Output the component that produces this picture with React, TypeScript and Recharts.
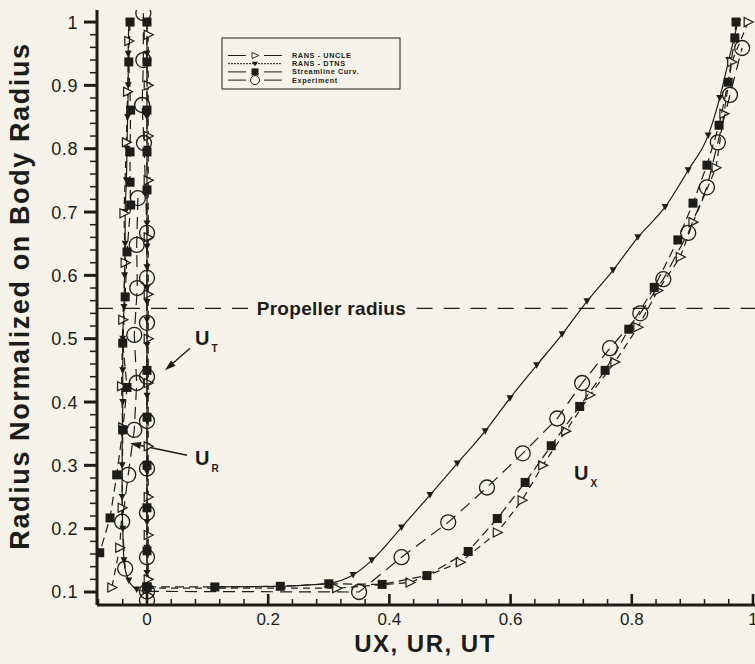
import React from "react";
import { ScatterChart, Scatter, XAxis, YAxis, ReferenceLine, ReferenceDot } from "recharts";

const INK = "#1c1c1a";
const BG = "#f5f3e9";
const FONT = '"Liberation Sans", Arial, Helvetica, sans-serif';

type Pt = { x: number; y: number };

// axis ticks
const xMajorTicks = [0, 0.2, 0.4, 0.6, 0.8, 1];
const xMajorLabels = ["0", "0.2", "0.4", "0.6", "0.8", "1"];
const yMajorTicks = [0.1, 0.2, 0.3, 0.4, 0.5, 0.6, 0.7, 0.8, 0.9, 1];
const yMajorLabels = ["0.1", "0.2", "0.3", "0.4", "0.5", "0.6", "0.7", "0.8", "0.9", "1"];
const xDomain = [-0.0825, 1.0033];
const yDomain = [0.0795, 1.019];
const propellerRadius = 0.548;

// minor ticks: every 0.04 on x, every 0.02 on y
const xMinorTicks: number[] = [];
for (let i = -2; i <= 25; i++) if (i % 5 !== 0) xMinorTicks.push(+(i * 0.04).toFixed(3));
const yMinorTicks: number[] = [];
for (let i = 6; i <= 50; i++) if (i % 5 !== 0) yMinorTicks.push(+(i * 0.02).toFixed(3));

// UX
const uxUncle: Pt[] = [
  { x: 0.0, y: 0.106 }, { x: 0.313, y: 0.106 }, { x: 0.434, y: 0.115 }, { x: 0.517, y: 0.147 },
  { x: 0.578, y: 0.194 }, { x: 0.619, y: 0.245 }, { x: 0.653, y: 0.3 }, { x: 0.691, y: 0.354 },
  { x: 0.731, y: 0.411 }, { x: 0.772, y: 0.463 }, { x: 0.81, y: 0.518 }, { x: 0.843, y: 0.576 },
  { x: 0.88, y: 0.629 }, { x: 0.901, y: 0.684 }, { x: 0.939, y: 0.77 }, { x: 0.952, y: 0.855 },
  { x: 0.965, y: 0.937 }, { x: 0.992, y: 1.0 },
];
const uxDtns: Pt[] = [
  { x: 0.11, y: 0.108 }, { x: 0.22, y: 0.109 }, { x: 0.3, y: 0.114 }, { x: 0.34, y: 0.127 },
  { x: 0.371, y: 0.15 }, { x: 0.42, y: 0.202 }, { x: 0.467, y: 0.253 }, { x: 0.512, y: 0.303 },
  { x: 0.558, y: 0.354 }, { x: 0.599, y: 0.406 }, { x: 0.643, y: 0.458 }, { x: 0.685, y: 0.507 },
  { x: 0.726, y: 0.559 }, { x: 0.769, y: 0.608 }, { x: 0.81, y: 0.66 }, { x: 0.855, y: 0.708 },
  { x: 0.893, y: 0.766 }, { x: 0.926, y: 0.821 }, { x: 0.945, y: 0.88 }, { x: 0.96, y: 0.94 },
  { x: 0.975, y: 1.0 },
];
const uxStream: Pt[] = [
  { x: 0.0, y: 0.108 }, { x: 0.112, y: 0.108 }, { x: 0.22, y: 0.109 }, { x: 0.3, y: 0.113 },
  { x: 0.388, y: 0.112 }, { x: 0.462, y: 0.126 }, { x: 0.53, y: 0.164 }, { x: 0.578, y: 0.216 },
  { x: 0.624, y: 0.273 }, { x: 0.667, y: 0.331 }, { x: 0.714, y: 0.393 }, { x: 0.756, y: 0.45 },
  { x: 0.795, y: 0.515 }, { x: 0.837, y: 0.581 }, { x: 0.876, y: 0.656 }, { x: 0.901, y: 0.714 },
  { x: 0.924, y: 0.774 }, { x: 0.944, y: 0.837 }, { x: 0.959, y: 0.905 }, { x: 0.97, y: 0.975 },
  { x: 0.972, y: 1.0 },
];
const uxExp: Pt[] = [
  { x: 0.0, y: 0.101 }, { x: 0.35, y: 0.1 }, { x: 0.42, y: 0.155 }, { x: 0.497, y: 0.21 },
  { x: 0.561, y: 0.265 }, { x: 0.62, y: 0.319 }, { x: 0.677, y: 0.374 }, { x: 0.718, y: 0.43 },
  { x: 0.764, y: 0.485 }, { x: 0.814, y: 0.54 }, { x: 0.852, y: 0.594 }, { x: 0.893, y: 0.667 },
  { x: 0.924, y: 0.739 }, { x: 0.942, y: 0.81 }, { x: 0.962, y: 0.885 }, { x: 0.982, y: 0.959 },
];

// UR
const urUncle: Pt[] = [
  { x: -0.03, y: 0.97 }, { x: -0.032, y: 0.89 }, { x: -0.034, y: 0.81 }, { x: -0.038, y: 0.698 },
  { x: -0.036, y: 0.62 }, { x: -0.04, y: 0.53 }, { x: -0.042, y: 0.425 }, { x: -0.04, y: 0.36 },
  { x: -0.041, y: 0.233 }, { x: -0.045, y: 0.17 }, { x: -0.058, y: 0.107 },
];
const urDtns: Pt[] = [
  { x: -0.03, y: 1.0 }, { x: -0.031, y: 0.95 }, { x: -0.031, y: 0.9 }, { x: -0.032, y: 0.85 },
  { x: -0.033, y: 0.8 }, { x: -0.034, y: 0.75 }, { x: -0.036, y: 0.7 }, { x: -0.036, y: 0.65 },
  { x: -0.037, y: 0.6 }, { x: -0.038, y: 0.55 }, { x: -0.04, y: 0.5 }, { x: -0.04, y: 0.45 },
  { x: -0.04, y: 0.4 }, { x: -0.041, y: 0.35 }, { x: -0.041, y: 0.3 }, { x: -0.041, y: 0.25 },
  { x: -0.04, y: 0.2 }, { x: -0.038, y: 0.15 }, { x: -0.03, y: 0.118 }, { x: -0.017, y: 0.104 },
  { x: 0.0, y: 0.1 },
];
const urStream: Pt[] = [
  { x: -0.028, y: 1.0 }, { x: -0.03, y: 0.937 }, { x: -0.027, y: 0.861 }, { x: -0.028, y: 0.795 },
  { x: -0.028, y: 0.747 }, { x: -0.027, y: 0.711 }, { x: -0.033, y: 0.637 }, { x: -0.036, y: 0.566 },
  { x: -0.04, y: 0.493 }, { x: -0.033, y: 0.423 }, { x: -0.04, y: 0.356 }, { x: -0.05, y: 0.285 },
  { x: -0.061, y: 0.217 }, { x: -0.078, y: 0.162 },
];
const urExp: Pt[] = [
  { x: -0.015, y: 0.722 }, { x: -0.017, y: 0.648 }, { x: -0.016, y: 0.58 }, { x: -0.021, y: 0.506 },
  { x: -0.017, y: 0.43 }, { x: -0.021, y: 0.356 }, { x: -0.031, y: 0.285 }, { x: -0.041, y: 0.211 },
  { x: -0.036, y: 0.137 },
];

// UT
const utUncle: Pt[] = [
  { x: 0.002, y: 0.98 }, { x: 0.002, y: 0.9 }, { x: 0.002, y: 0.82 }, { x: 0.002, y: 0.75 },
  { x: 0.002, y: 0.66 }, { x: 0.002, y: 0.57 }, { x: 0.002, y: 0.5 }, { x: 0.002, y: 0.43 },
  { x: 0.002, y: 0.33 }, { x: 0.002, y: 0.25 }, { x: 0.002, y: 0.19 }, { x: 0.002, y: 0.12 },
];
const utDtns: Pt[] = [
  { x: 0, y: 1.0 }, { x: 0, y: 0.95 }, { x: 0, y: 0.9 }, { x: 0, y: 0.85 }, { x: 0, y: 0.8 },
  { x: 0, y: 0.75 }, { x: 0, y: 0.682 }, { x: 0, y: 0.645 }, { x: 0, y: 0.613 }, { x: 0, y: 0.58 },
  { x: 0, y: 0.558 }, { x: 0, y: 0.53 }, { x: 0, y: 0.49 }, { x: 0, y: 0.45 }, { x: 0, y: 0.41 },
  { x: 0, y: 0.37 }, { x: 0, y: 0.33 }, { x: 0, y: 0.29 }, { x: 0, y: 0.25 }, { x: 0, y: 0.21 },
  { x: 0, y: 0.17 }, { x: 0, y: 0.13 }, { x: 0, y: 0.1 },
];
const utStream: Pt[] = [
  { x: 0, y: 1.0 }, { x: 0, y: 0.937 }, { x: 0, y: 0.861 }, { x: 0, y: 0.795 }, { x: 0, y: 0.735 },
  { x: 0, y: 0.45 }, { x: 0, y: 0.376 }, { x: 0, y: 0.3 }, { x: 0, y: 0.233 }, { x: 0, y: 0.165 },
  { x: 0, y: 0.108 },
];
const utExp: Pt[] = [
  { x: -0.006, y: 1.014 }, { x: -0.006, y: 0.94 }, { x: -0.008, y: 0.869 }, { x: -0.005, y: 0.809 },
  { x: 0, y: 0.667 }, { x: 0, y: 0.596 }, { x: 0, y: 0.525 }, { x: 0, y: 0.44 }, { x: 0, y: 0.37 },
  { x: 0, y: 0.295 }, { x: 0, y: 0.225 }, { x: 0, y: 0.155 }, { x: 0, y: 0.087 },
];

// markers
const OpenTri = (p: any) => (
  <path d={`M${p.cx - 4},${p.cy - 4.5}L${p.cx + 5},${p.cy}L${p.cx - 4},${p.cy + 4.5}Z`} fill={BG} stroke={INK} strokeWidth={1.2} />
);
const DownTri = (p: any) => (
  <path d={`M${p.cx - 3.5},${p.cy - 3}L${p.cx + 3.5},${p.cy - 3}L${p.cx},${p.cy + 3.5}Z`} fill={INK} />
);
const Square = (p: any) => <rect x={p.cx - 4.5} y={p.cy - 4.5} width={9} height={9} fill={INK} />;
const OpenCircle = (p: any) => <circle cx={p.cx} cy={p.cy} r={7.5} fill="none" stroke={INK} strokeWidth={1.3} />;

const uncleLine = { stroke: INK, strokeWidth: 1.2, strokeDasharray: "7 5" };
const dtnsLine = { stroke: INK, strokeWidth: 1.2 };
const streamLine = { stroke: INK, strokeWidth: 1.2, strokeDasharray: "9 5" };
const expLine = { stroke: INK, strokeWidth: 1.2, strokeDasharray: "12 7" };

const majorIndex = (ticks: number[], v: number) => ticks.findIndex((t) => Math.abs(t - v) < 1e-6);

const XTick = (p: any) => {
  const i = majorIndex(xMajorTicks, p.payload.value);
  const major = i >= 0;
  return (
    <g>
      <line x1={p.x} x2={p.x} y1={p.y} y2={p.y - (major ? 11 : 6)} stroke={INK} strokeWidth={major ? 2.6 : 1.5} />
      {major && (
        <text x={p.x} y={p.y + 20} textAnchor="middle" fontSize={17} fontFamily={FONT} fill={INK}>
          {xMajorLabels[i]}
        </text>
      )}
    </g>
  );
};

const YTick = (p: any) => {
  const i = majorIndex(yMajorTicks, p.payload.value);
  const major = i >= 0;
  return (
    <g>
      <line x1={p.x - (major ? 13 : 7)} x2={p.x} y1={p.y} y2={p.y} stroke={INK} strokeWidth={major ? 3 : 1.5} />
      {major && (
        <text x={p.x - 19} y={p.y} dy="0.36em" textAnchor="end" fontSize={18} fontFamily={FONT} fill={INK} letterSpacing={0.6}>
          {yMajorLabels[i]}
        </text>
      )}
    </g>
  );
};

const arrow = (p: any) => {
  const { x1, y1, x2, y2 } = p;
  const a = Math.atan2(y2 - y1, x2 - x1);
  const L = 11;
  const W = 3.5;
  const bx = x2 - L * Math.cos(a);
  const by = y2 - L * Math.sin(a);
  const nx = -Math.sin(a) * W;
  const ny = Math.cos(a) * W;
  return (
    <g>
      <line x1={x1} y1={y1} x2={bx} y2={by} stroke={INK} strokeWidth={1.4} />
      <path d={`M${x2},${y2}L${bx + nx},${by + ny}L${bx - nx},${by - ny}Z`} fill={INK} />
    </g>
  );
};

const subLabel = (main: string, sub: string) => (p: any) => (
  <text x={p.cx} y={p.cy} fontFamily={FONT} fontWeight="bold" fill={INK} fontSize={20}>
    {main}
    <tspan fontSize={10} dx={2} dy={7}>{sub}</tspan>
  </text>
);

const propLabel = (p: any) => (
  <text x={p.cx} y={p.cy} dy="0.35em" fontFamily={FONT} fontWeight="bold" fill={INK} fontSize={19} letterSpacing={0.3}>
    Propeller radius
  </text>
);

const legendRows = [
  { label: "RANS - UNCLE", kind: "uncle" },
  { label: "RANS - DTNS", kind: "dtns" },
  { label: "Streamline Curv.", kind: "stream" },
  { label: "Experiment", kind: "exp" },
];

function LegendBox() {
  return (
    <g>
      <rect x={222} y={38} width={178} height={51} fill={BG} stroke={INK} strokeWidth={1} />
      {legendRows.map((r, i) => {
        const y = 55.5 + i * 8.2;
        const mx = 255;
        return (
          <g key={r.label}>
            {r.kind === "dtns" ? (
              <line x1={228} x2={282} y1={y} y2={y} stroke={INK} strokeWidth={1} strokeDasharray="2 1" />
            ) : (
              <g>
                <line x1={228} x2={246} y1={y} y2={y} stroke={INK} strokeWidth={1} />
                <line x1={264} x2={282} y1={y} y2={y} stroke={INK} strokeWidth={1} />
              </g>
            )}
            {r.kind === "uncle" && <path d={`M${mx - 3},${y - 3}L${mx + 4},${y}L${mx - 3},${y + 3}Z`} fill={BG} stroke={INK} strokeWidth={0.9} />}
            {r.kind === "dtns" && <path d={`M${mx - 3},${y - 2}L${mx + 3},${y - 2}L${mx},${y + 2.5}Z`} fill={INK} />}
            {r.kind === "stream" && <rect x={mx - 3.5} y={y - 3.5} width={7} height={7} fill={INK} />}
            {r.kind === "exp" && <circle cx={mx} cy={y} r={4.5} fill={BG} stroke={INK} strokeWidth={1} />}
            <text x={292} y={y} dy="0.35em" fontSize={7.3} fontWeight="bold" fontFamily={FONT} fill={INK} letterSpacing={0.6}>
              {r.label}
            </text>
          </g>
        );
      })}
    </g>
  );
}

export default function App() {
  return (
    <div style={{ position: "absolute", left: 0, top: 0, width: 755, height: 664, background: BG, overflow: "hidden" }}>
      <ScatterChart width={755} height={664} margin={{ top: 10, right: 0, bottom: 0, left: 0 }}>
        <XAxis
          type="number"
          dataKey="x"
          domain={xDomain}
          allowDataOverflow
          ticks={[...xMajorTicks, ...xMinorTicks].sort((a, b) => a - b)}
          interval={0}
          height={59}
          tickSize={0}
          tickMargin={0}
          tickLine={false}
          tick={XTick}
          axisLine={{ stroke: INK, strokeWidth: 3 }}
        />
        <YAxis
          type="number"
          dataKey="y"
          domain={yDomain}
          allowDataOverflow
          ticks={[...yMajorTicks, ...yMinorTicks].sort((a, b) => a - b)}
          interval={0}
          width={97}
          tickSize={0}
          tickMargin={0}
          tickLine={false}
          tick={YTick}
          axisLine={{ stroke: INK, strokeWidth: 3 }}
        />

        <ReferenceLine segment={[{ x: xDomain[0], y: propellerRadius }, { x: 0.17, y: propellerRadius }]} stroke={INK} strokeWidth={1.3} strokeDasharray="16 11" />
        <ReferenceLine segment={[{ x: 0.445, y: propellerRadius }, { x: xDomain[1], y: propellerRadius }]} stroke={INK} strokeWidth={1.3} strokeDasharray="16 11" />
        <ReferenceDot x={0.181} y={propellerRadius} r={0} shape={propLabel} />

        <Scatter data={utDtns} isAnimationActive={false} line={dtnsLine} shape={DownTri} />
        <Scatter data={utUncle} isAnimationActive={false} line={uncleLine} shape={OpenTri} />
        <Scatter data={utStream} isAnimationActive={false} line={streamLine} shape={Square} />
        <Scatter data={utExp} isAnimationActive={false} line={expLine} shape={OpenCircle} />

        <Scatter data={urDtns} isAnimationActive={false} line={dtnsLine} lineJointType="monotoneY" shape={DownTri} />
        <Scatter data={urUncle} isAnimationActive={false} line={uncleLine} shape={OpenTri} />
        <Scatter data={urStream} isAnimationActive={false} line={streamLine} shape={Square} />
        <Scatter data={urExp} isAnimationActive={false} line={expLine} shape={OpenCircle} />

        <Scatter data={uxDtns} isAnimationActive={false} line={dtnsLine} lineJointType="monotoneX" shape={DownTri} />
        <Scatter data={uxUncle} isAnimationActive={false} line={uncleLine} shape={OpenTri} />
        <Scatter data={uxStream} isAnimationActive={false} line={streamLine} shape={Square} />
        <Scatter data={uxExp} isAnimationActive={false} line={expLine} shape={OpenCircle} />

        <ReferenceLine segment={[{ x: 0.071, y: 0.485 }, { x: 0.0297, y: 0.45 }]} shape={arrow} />
        <ReferenceLine segment={[{ x: 0.066, y: 0.316 }, { x: -0.028, y: 0.335 }]} shape={arrow} />
        <ReferenceDot x={0.0792} y={0.4897} r={0} shape={subLabel("U", "T")} />
        <ReferenceDot x={0.0792} y={0.3002} r={0} shape={subLabel("U", "R")} />
        <ReferenceDot x={0.7046} y={0.2765} r={0} shape={subLabel("U", "X")} />
      </ScatterChart>
      <svg width={755} height={664} style={{ position: "absolute", left: 0, top: 0, pointerEvents: "none" }}>
        <LegendBox />
        <text x={425} y={652} textAnchor="middle" fontSize={24} fontWeight="bold" fontFamily={FONT} fill={INK} letterSpacing={1.5}>
          UX, UR, UT
        </text>
        <text
          x={20}
          y={296}
          transform="rotate(-90 20 296)"
          textAnchor="middle"
          dominantBaseline="central"
          fontSize={27}
          fontWeight="bold"
          fontFamily={FONT}
          fill={INK}
          letterSpacing={1.6}
        >
          Radius Normalized on Body Radius
        </text>
      </svg>
    </div>
  );
}
